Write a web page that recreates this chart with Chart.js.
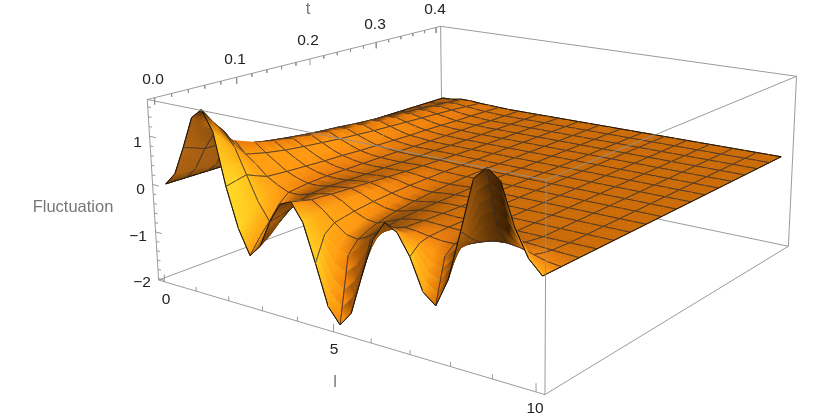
<!DOCTYPE html>
<html>
<head>
<meta charset="utf-8">
<style>body{margin:0;background:#fff}canvas{display:block}</style>
<script src="https://cdn.jsdelivr.net/npm/chart.js"></script>
</head>
<body>
<canvas id="chart" width="830" height="419"></canvas>
<script>
// --- Data ---
const lValues = [0,0.3125,0.625,0.9375,1.25,1.5625,1.875,2.1875,2.5,2.8125,3.125,3.4375,3.75,4.0625,4.375,4.6875,5,5.3125,5.625,5.9375,6.25,6.5625,6.875,7.1875,7.5,7.8125,8.125,8.4375,8.75,9.0625,9.375,9.6875,10];
const tValues = [0,0.0125,0.025,0.0375,0.05,0.075,0.1,0.125,0.15,0.175,0.2,0.225,0.25,0.275,0.3,0.325,0.35,0.375,0.4];

const zT0000 = [0,.26,.85,1.5,1.7,1.3,.25,-.55,-1.05,-.8,-.25,.15,.25,-.1,-.85,-1.65,-1.95,-1.65,-.85,-.1,.28,.15,-.25,-.85,-1.05,-.5,.45,1.45,1.7,1.5,.75,.25,0];
const zT0125 = [0,.25,.78,1.25,1.4,1.05,.3,-.35,-.75,-.65,-.2,.12,.2,-.05,-.35,-.6,-.65,-.45,-.2,-.03,.1,.04,-.07,-.17,-.2,-.02,.25,.5,.6,.5,.28,.08,0];
const zT0250 = [0,.25,.7,1.05,1.15,.85,.35,-.15,-.5,-.45,-.15,.08,.15,0,-.2,-.38,-.42,-.3,-.12,-.02,.04,.02,-.02,-.05,-.05,0,.1,.18,.2,.17,.1,.03,0];
const zT0375 = [0,.22,.7,.92,.82,.58,.26,-.02,-.22,-.22,-.05,.1,.14,.01,-.16,-.3,-.33,-.22,-.09,-.02,.03,.02,-.01,-.03,-.03,0,.06,.1,.11,.09,.05,.01,0];
const zT0500 = [0,.2,.66,.78,.55,.38,.18,.05,-.05,-.05,.02,.08,.12,.02,-.12,-.22,-.25,-.16,-.06,-.01,.02,.01,0,-.01,-.01,0,.03,.05,.05,.04,.02,.01,0];
const zT0750 = [0,.17,.56,.62,.45,.3,.15,.06,0,0,.04,.07,.1,.03,-.07,-.14,-.16,-.1,-.03,0,.01,0,0,0,0,0,0,0,0,0,0,0,0];
const zT1000 = [0,.15,.48,.52,.38,.25,.13,.06,.02,.01,.03,.06,.08,.03,-.04,-.09,-.1,-.06,-.02,0,0,0,0,0,0,0,0,0,0,0,0,0,0];
const zT1250 = [0,.13,.42,.45,.33,.21,.11,.05,.02,.01,.02,.04,.06,.03,-.02,-.05,-.06,-.03,-.01,0,0,0,0,0,0,0,0,0,0,0,0,0,0];
const zT1500 = [0,.12,.37,.4,.29,.18,.1,.05,.02,.01,.02,.03,.04,.02,-.01,-.03,-.03,-.02,0,0,0,0,0,0,0,0,0,0,0,0,0,0,0];
const zT1750 = [0,.1,.33,.35,.25,.16,.08,.04,.02,.01,.01,.02,.03,.01,0,-.01,-.01,-.01,0,0,0,0,0,0,0,0,0,0,0,0,0,0,0];
const zT2000 = [0,.09,.3,.31,.22,.14,.07,.04,.02,.01,.01,.01,.02,.01,0,0,0,0,0,0,0,0,0,0,0,0,0,0,0,0,0,0,0];
const zT2250 = [0,.08,.26,.27,.19,.12,.06,.03,.01,.01,.01,.01,.01,0,0,0,0,0,0,0,0,0,0,0,0,0,0,0,0,0,0,0,0];
const zT2500 = [0,.07,.23,.24,.17,.1,.05,.03,.01,0,0,0,0,0,0,0,0,0,0,0,0,0,0,0,0,0,0,0,0,0,0,0,0];
const zT2750 = [0,.06,.2,.21,.15,.09,.05,.02,.01,0,0,0,0,0,0,0,0,0,0,0,0,0,0,0,0,0,0,0,0,0,0,0,0];
const zT3000 = [0,.05,.17,.18,.13,.08,.04,.02,.01,0,0,0,0,0,0,0,0,0,0,0,0,0,0,0,0,0,0,0,0,0,0,0,0];
const zT3250 = [0,.04,.14,.15,.11,.07,.03,.02,.01,0,0,0,0,0,0,0,0,0,0,0,0,0,0,0,0,0,0,0,0,0,0,0,0];
const zT3500 = [0,.03,.11,.12,.09,.05,.03,.01,0,0,0,0,0,0,0,0,0,0,0,0,0,0,0,0,0,0,0,0,0,0,0,0,0];
const zT3750 = [0,.02,.08,.09,.06,.04,.02,.01,0,0,0,0,0,0,0,0,0,0,0,0,0,0,0,0,0,0,0,0,0,0,0,0,0];
const zT4000 = [0,.01,.05,.05,.03,.02,.01,0,0,0,0,0,0,0,0,0,0,0,0,0,0,0,0,0,0,0,0,0,0,0,0,0,0];
const zRows = [zT0000,zT0125,zT0250,zT0375,zT0500,zT0750,zT1000,zT1250,zT1500,zT1750,zT2000,zT2250,zT2500,zT2750,zT3000,zT3250,zT3500,zT3750,zT4000];

const lTicks = [0,1,2,3,4,5,6,7,8,9,10];
const lMajor = [0,5,10];
const tTicks = [0,0.02,0.04,0.06,0.08,0.1,0.12,0.14,0.16,0.18,0.2,0.22,0.24,0.26,0.28,0.3,0.32,0.34,0.36,0.38,0.4];
const tMajor = [0,0.1,0.2,0.3,0.4];
const zTicks = [-2,-1.8,-1.6,-1.4,-1.2,-1,-0.8,-0.6,-0.4,-0.2,0,0.2,0.4,0.6,0.8,1,1.2,1.4,1.6];
const zMajor = [-2,-1,0,1];

// --- Box and camera ---
const lMin = -0.2, lMax = 10.2, tMin = -0.008, tMax = 0.408, zMin = -2.03, zMax = 1.75;
// where the box corners land on screen, used to fit the perspective camera
const cornerFit = [
    [0,0,0,158,281],[1,0,0,544,394],[1,1,0,788,247],[0,1,0,444,173],
    [0,0,1,148,99],[1,0,1,547,180],[1,1,1,797,76],[0,1,1,439,27],
];

function fitCamera() {
    const n = 11;
    const m = Array.from({ length: n }, () => new Array(n + 1).fill(0));
    const addRow = (row, b) => {
        for (let i = 0; i < n; i++) {
            for (let j = 0; j < n; j++) m[i][j] += row[i] * row[j];
            m[i][n] += row[i] * b;
        }
    };
    cornerFit.forEach(([u, v, w, x, y]) => {
        addRow([u, v, w, 1, 0, 0, 0, 0, -x * u, -x * v, -x * w], x);
        addRow([0, 0, 0, 0, u, v, w, 1, -y * u, -y * v, -y * w], y);
    });
    for (let c = 0; c < n; c++) {
        let p = c;
        for (let r = c + 1; r < n; r++) if (Math.abs(m[r][c]) > Math.abs(m[p][c])) p = r;
        [m[c], m[p]] = [m[p], m[c]];
        for (let r = 0; r < n; r++) {
            if (r === c) continue;
            const f = m[r][c] / m[c][c];
            for (let k = c; k <= n; k++) m[r][k] -= f * m[c][k];
        }
    }
    return m.map((row, i) => row[n] / row[i]);
}
const cam = fitCamera();

function project(l, t, z) {
    const u = (l - lMin) / (lMax - lMin);
    const v = (t - tMin) / (tMax - tMin);
    const w = (z - zMin) / (zMax - zMin);
    const d = cam[8] * u + cam[9] * v + cam[10] * w + 1;
    return {
        x: (cam[0] * u + cam[1] * v + cam[2] * w + cam[3]) / d,
        y: (cam[4] * u + cam[5] * v + cam[6] * w + cam[7]) / d,
    };
}

// --- Shading ---
function mix(stops, s) {
    for (let i = 1; i < stops.length; i++) {
        if (s <= stops[i][0] || i === stops.length - 1) {
            const a = stops[i - 1], b = stops[i];
            const f = Math.min(1, Math.max(0, (s - a[0]) / (b[0] - a[0])));
            return [1, 2, 3].map(k => a[k] + (b[k] - a[k]) * f);
        }
    }
}
const topRamp = [[-1,90,48,4],[-0.35,125,68,6],[-0.1,170,90,8],[0,204,108,8],[0.1,235,125,12],[0.3,255,150,16],[0.6,255,165,18],[0.85,255,190,25],[1,255,225,40]];
const underRamp = [[0,60,32,2],[1,175,98,15]];

function vertexColor(i, j) {
    const il = Math.max(0, i - 1), ih = Math.min(lValues.length - 1, i + 1);
    const jl = Math.max(0, j - 1), jh = Math.min(tValues.length - 1, j + 1);
    const dzdu = (zRows[j][ih] - zRows[j][il]) / (lValues[ih] - lValues[il]) * 10 * 0.105;
    const dzdv = (zRows[jh][i] - zRows[jl][i]) / (tValues[jh] - tValues[jl]) * 0.4 * 0.105;
    const len = Math.hypot(dzdu, dzdv, 1);
    const nu = -dzdu / len, nv = -dzdv / len, nw = 1 / len;
    if (nu * 0.5 - nv * 0.7 + nw * 0.5 < 0) return mix(underRamp, 0.2 - nu * 0.9);
    return mix(topRamp, nu - nv * 0.25);
}
const rgb = c => `rgb(${c.map(Math.round).join(',')})`;
const blend = (a, b, f) => a.map((v, k) => v + (b[k] - v) * f);
const along = (a, b, f) => ({ x: a.x + (b.x - a.x) * f, y: a.y + (b.y - a.y) * f });

// --- Datasets, far to near ---
const layers = [];

function addLine(points, color, width) {
    layers.push({ data: points, showLine: true, pointRadius: 0, fill: false, borderColor: color, borderWidth: width, spanGaps: false });
}
function boxLine(a, b) {
    addLine([project(...a), project(...b)], '#909090', 0.9);
}

// box edges behind the surface
boxLine([lMin,tMax,zMin],[lMin,tMax,zMax]);
boxLine([lMin,tMax,zMax],[lMax,tMax,zMax]);
boxLine([lMax,tMax,zMax],[lMax,tMax,zMin]);
boxLine([lMin,tMax,zMin],[lMax,tMax,zMin]);
boxLine([lMin,tMin,zMin],[lMin,tMax,zMin]);
boxLine([lMax,tMin,zMin],[lMax,tMax,zMin]);
boxLine([lMin,tMin,zMax],[lMin,tMax,zMax]);
tTicks.forEach(t => {
    const size = tMajor.includes(t) ? 0.14 : 0.07;
    boxLine([lMin,t,zMax],[lMin,t,zMax - size]);
});

const isMeshL = i => i % 2 === 0;
const isMeshT = j => Math.round(tValues[j] * 1000) % 25 === 0;
const gap = { x: NaN, y: NaN };
const canvasCtx = document.getElementById('chart').getContext('2d');

// the canvas is filled edge to edge by the 0..830 / 0..419 scales, so gradient ends use the same numbers
function patchGradient(start, end, left, right) {
    const g = canvasCtx.createLinearGradient(start.x, start.y, end.x, end.y);
    g.addColorStop(0, rgb(left));
    g.addColorStop(1, rgb(right));
    return g;
}

for (let j = tValues.length - 2; j >= 0; j--) {
    for (let i = 0; i < lValues.length - 1; i++) {
        const a = project(lValues[i], tValues[j], zRows[j][i]);
        const b = project(lValues[i + 1], tValues[j], zRows[j][i + 1]);
        const c = project(lValues[i + 1], tValues[j + 1], zRows[j + 1][i + 1]);
        const d = project(lValues[i], tValues[j + 1], zRows[j + 1][i]);

        // colour strips inside the one flat patch, so the shading does not look blocky
        const strips = j < 5 ? 4 : j < 10 ? 2 : 1;
        for (let s = strips - 1; s >= 0; s--) {
            const f0 = s / strips, f1 = (s + 1) / strips, fm = (f0 + f1) / 2;
            const a0 = along(a, d, f0), b0 = along(b, c, f0), b1 = along(b, c, f1), a1 = along(a, d, f1);
            const left = blend(vertexColor(i, j), vertexColor(i, j + 1), fm);
            const right = blend(vertexColor(i + 1, j), vertexColor(i + 1, j + 1), fm);
            const paint = patchGradient(along(a0, a1, 0.5), along(b0, b1, 0.5), left, right);
            layers.push({ data: [a0, b0, b1, a1, a0], showLine: true, pointRadius: 0, fill: 'shape', backgroundColor: paint, borderColor: paint, borderWidth: 0.7 });
        }

        // mesh lines belonging to this patch
        const mesh = [];
        if (isMeshT(j)) mesh.push(a, b, gap);
        if (isMeshT(j + 1)) mesh.push(d, c, gap);
        if (isMeshL(i)) mesh.push(a, d, gap);
        if (isMeshL(i + 1)) mesh.push(b, c, gap);
        if (mesh.length) addLine(mesh, 'rgba(50,45,45,0.85)', 0.9);

        // outline of the sheet
        const edge = [];
        if (j === 0) edge.push(a, b, gap);
        if (j === tValues.length - 2) edge.push(d, c, gap);
        if (i === 0) edge.push(a, d, gap);
        if (i === lValues.length - 2) edge.push(b, c, gap);
        if (edge.length) addLine(edge, 'rgba(25,15,0,0.9)', 1);
    }
}

// box edges in front of the surface
boxLine([lMin,tMin,zMin],[lMin,tMin,zMax]);
boxLine([lMin,tMin,zMax],[lMax,tMin,zMax]);
boxLine([lMax,tMin,zMax],[lMax,tMin,zMin]);
boxLine([lMin,tMin,zMin],[lMax,tMin,zMin]);
boxLine([lMax,tMin,zMax],[lMax,tMax,zMax]);
zTicks.forEach(z => {
    const size = zMajor.includes(z) ? 0.2 : 0.1;
    boxLine([lMin,tMin,z],[lMin + size,tMin,z]);
});
lTicks.forEach(l => {
    const size = lMajor.includes(l) ? 0.16 : 0.09;
    boxLine([l,tMin,zMin],[l,tMin,zMin + size]);
});

// --- Text ---
const tickFont = '15.5px "Liberation Sans", Arial, sans-serif';
const titleFont = '16.5px "Liberation Sans", Arial, sans-serif';
const tickTexts = [
    ['0.0',153,80],['0.1',235,60],['0.2',308,41],['0.3',375,25],['0.4',435,10],
    ['1',137.5,143],['0',140.5,190],['\u22121',138,237],['\u22122',142,283],
    ['0',166,300],['5',334,350],['10',535,409],
];
const titleTexts = [['t',308,9],['Fluctuation',73,207],['l',335,382]];

const textPlugin = {
    id: 'axisText',
    afterDatasetsDraw(chart) {
        const ctx = chart.ctx;
        ctx.save();
        ctx.textAlign = 'center';
        ctx.textBaseline = 'middle';
        ctx.font = tickFont;
        ctx.fillStyle = '#222';
        tickTexts.forEach(([s, x, y]) => ctx.fillText(s, x, y));
        ctx.font = titleFont;
        ctx.fillStyle = '#777';
        titleTexts.forEach(([s, x, y]) => ctx.fillText(s, x, y));
        ctx.restore();
    },
};

// chart.js draws the first dataset on top, so hand them over near to far
new Chart(document.getElementById('chart'), {
    type: 'scatter',
    data: { datasets: layers.slice().reverse() },
    plugins: [textPlugin],
    options: {
        responsive: false,
        animation: false,
        layout: { padding: 0 },
        events: [],
        plugins: { legend: { display: false }, tooltip: { enabled: false } },
        scales: {
            x: { type: 'linear', min: 0, max: 830, display: false },
            y: { type: 'linear', min: 0, max: 419, reverse: true, display: false },
        },
    },
});
</script>
</body>
</html>
